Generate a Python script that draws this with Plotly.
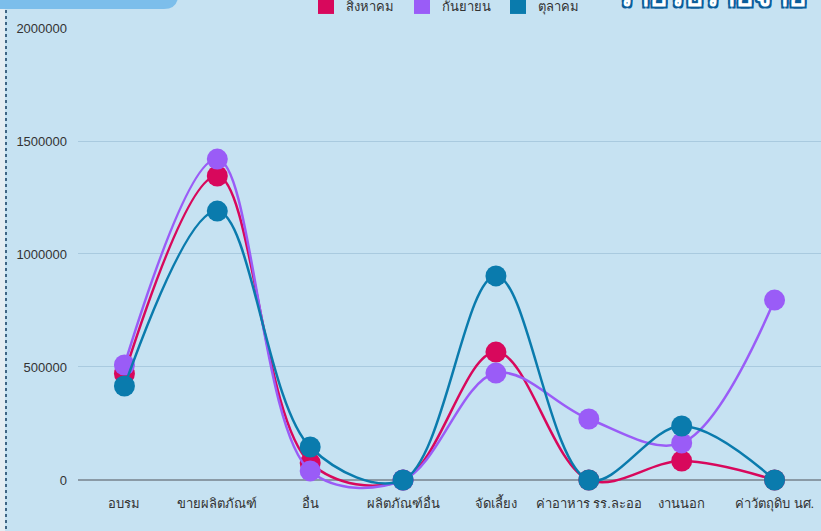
import plotly.graph_objects as go

# Categories and monthly amounts
categories = ["อบรม", "ขายผลิตภัณฑ์", "อื่น", "ผลิตภัณฑ์อื่น", "จัดเลี้ยง",
              "ค่าอาหาร รร.ละออ", "งานนอก", "ค่าวัตถุดิบ นศ."]
months = ["สิงหาคม", "กันยายน", "ตุลาคม"]
aug = [470000, 1345000, 75000, 0, 566000, 0, 84000, 0]
sep = [509000, 1420000, 40000, 0, 473000, 270000, 164000, 796000]
octo = [416000, 1190000, 146000, 0, 903000, 0, 239000, 0]
series = [aug, sep, octo]
colors = ["#D8085C", "#9A5CF7", "#0A7BAD"]

y_ticks = [0, 500000, 1000000, 1500000, 2000000]

W, H = 821, 531
ML, MR, MT, MB = 78, 0, 28, 37
PW, PH = W - ML - MR, H - MT - MB


def xp(px):
    return (px - ML) / PW


def yp(py):
    return (H - MB - py) / PH


FONT = "Liberation Sans, Noto Sans, sans-serif"
BG = "#C6E2F2"

fig = go.Figure()

for name, vals, col in zip(months, series, colors):
    fig.add_trace(go.Scatter(
        x=categories, y=vals, mode="lines+markers", name=name,
        line=dict(color=col, width=2.5, shape="spline", smoothing=1.0),
        marker=dict(color=col, size=21),
        showlegend=False, cliponaxis=False,
    ))
    # square legend swatch
    fig.add_trace(go.Scatter(
        x=[None], y=[None], mode="markers", name=name,
        marker=dict(color=col, symbol="square", size=18),
        showlegend=True,
    ))

shapes = [
    # pale strip at the far left edge
    dict(type="rect", xref="paper", yref="paper", x0=xp(0), x1=xp(5),
         y0=yp(H), y1=yp(0), fillcolor="#E4EDF3", line_width=0, layer="below"),
    # dotted frame edge
    dict(type="line", xref="paper", yref="paper", x0=xp(6), x1=xp(6),
         y0=yp(10), y1=yp(H), line=dict(color="#3F6584", width=2, dash="dot")),
    # header tab
    dict(type="path", xref="paper", yref="paper",
         path=(f"M {xp(0)},{yp(-2)} L {xp(178)},{yp(-2)} "
               f"Q {xp(176)},{yp(9)} {xp(164)},{yp(9)} "
               f"L {xp(0)},{yp(9)} Z"),
         fillcolor="#7CBEEB", line_width=0),
]

annotations = [
    dict(text="รายรับรายจ่าย", xref="paper", yref="paper",
         x=xp(712), y=yp(14), xanchor="center", yanchor="bottom",
         showarrow=False,
         font=dict(family=FONT, size=30, color="#FFFFFF", weight="bold",
                   shadow="2px 2px 0 #0B5E9B, -2px -2px 0 #0B5E9B, 2px -2px 0 #0B5E9B, -2px 2px 0 #0B5E9B")),
]

fig.update_layout(
    width=W, height=H,
    margin=dict(l=ML, r=MR, t=MT, b=MB, pad=0, autoexpand=False),
    paper_bgcolor=BG, plot_bgcolor=BG,
    font=dict(family=FONT, size=13, color="#333333"),
    showlegend=True,
    legend=dict(orientation="h", x=xp(306), xanchor="left", y=yp(6),
                yanchor="middle", bgcolor="rgba(0,0,0,0)",
                font=dict(family=FONT, size=13, color="#333333"),
                itemsizing="trace", entrywidth=51, entrywidthmode="pixels"),
    xaxis=dict(type="category", range=[-0.5, 7.5], showgrid=False,
               showline=False, zeroline=False, ticks="",
               tickfont=dict(family=FONT, size=13, color="#333333")),
    yaxis=dict(range=[-62000, 2000000], tickvals=y_ticks,
               ticktext=[str(v) for v in y_ticks],
               showgrid=True, gridcolor="#A9CADF", gridwidth=1,
               zeroline=True, zerolinecolor="#8A9AA6", zerolinewidth=1.5,
               showline=False, ticks="", ticklabelstandoff=10,
               tickfont=dict(family=FONT, size=13, color="#333333")),
    shapes=shapes, annotations=annotations,
)

fig.write_html("out.html")
